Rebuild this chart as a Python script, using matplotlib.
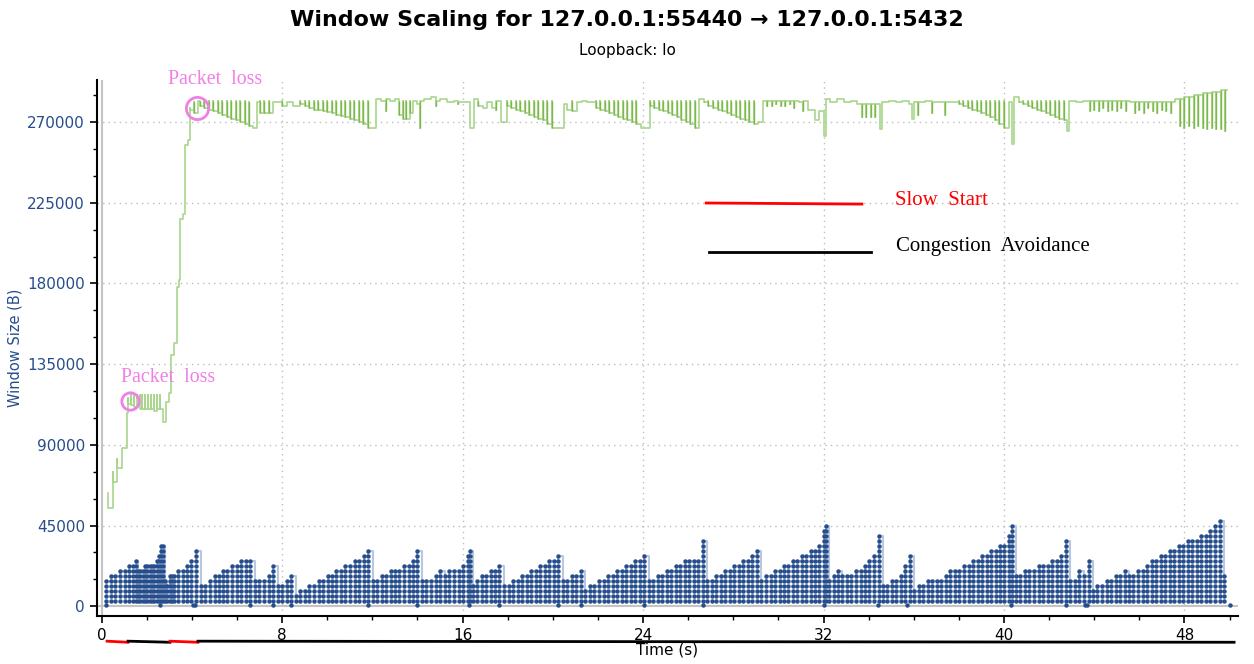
import matplotlib
matplotlib.use("Agg")
import matplotlib.pyplot as plt
import numpy as np

# bytes in flight: column times (s) and number of stacked segments per column
SEG = 2800
blue_t = [0.21, 0.40, 0.60, 0.81, 1.02, 1.21, 1.40, 1.51,
          1.61, 1.71, 1.82, 1.92, 2.02, 2.13, 2.23, 2.33, 2.44, 2.54, 2.64, 2.72,
          2.79, 2.91, 3.01, 3.12, 3.20, 3.38, 3.60, 3.80, 3.97, 4.19,
          4.42, 4.59, 4.80, 5.01, 5.18, 5.38, 5.57, 5.78, 5.98, 6.19, 6.38, 6.59,
          6.78, 6.99, 7.18, 7.40, 7.58,
          7.81, 8.01, 8.21, 8.39,
          8.60, 8.79, 9.00, 9.20, 9.41, 9.62, 9.82, 10.02, 10.19, 10.40, 10.61, 10.80, 11.01, 11.21, 11.40, 11.61, 11.80,
          12.01, 12.20, 12.41, 12.60, 12.82, 13.02, 13.19, 13.40, 13.61, 13.81, 13.99,
          14.21, 14.40, 14.61, 14.80, 14.99, 15.20, 15.41, 15.62, 15.82, 16.01, 16.22, 16.34,
          16.44, 16.64, 16.84, 17.03, 17.24, 17.43, 17.63,
          17.85, 18.04, 18.25, 18.44, 18.64, 18.85, 19.04, 19.25, 19.44, 19.65, 19.84, 20.05, 20.24,
          20.45, 20.64, 20.85, 21.04, 21.23,
          21.44, 21.65, 21.84, 22.04, 22.25, 22.44, 22.65, 22.86, 23.05, 23.26, 23.45, 23.65, 23.85, 24.04,
          24.25, 24.44, 24.64, 24.85, 25.04, 25.25, 25.44, 25.65, 25.84, 26.05, 26.24, 26.45, 26.64,
          26.85, 27.04, 27.24, 27.44, 27.64, 27.84, 28.04, 28.25, 28.44, 28.65, 28.84, 29.05,
          29.24, 29.45, 29.65, 29.85, 30.05, 30.24, 30.42, 30.63, 30.83, 31.03, 31.23, 31.43, 31.63, 31.82, 32.03, 32.12,
          32.22, 32.45, 32.64, 32.81, 33.04, 33.23, 33.44, 33.64, 33.83, 34.03, 34.23, 34.44,
          34.63, 34.82, 35.03, 35.22, 35.43, 35.62, 35.83,
          36.02, 36.21, 36.42, 36.61, 36.82, 37.03, 37.22, 37.41, 37.62, 37.82, 38.02, 38.22, 38.43, 38.62, 38.83,
          39.02, 39.23, 39.43, 39.63, 39.83, 40.02, 40.23, 40.34,
          40.53, 40.73, 40.93, 41.12, 41.33, 41.53, 41.72, 41.93, 42.14, 42.33, 42.52, 42.73,
          42.92, 43.13, 43.32, 43.53, 43.76,
          43.94, 44.13, 44.34, 44.55, 44.74, 44.95, 45.14, 45.35, 45.54, 45.73, 45.94, 46.14, 46.33, 46.54, 46.73,
          46.94, 47.15, 47.34, 47.55, 47.74, 47.94, 48.15, 48.34, 48.55, 48.74, 48.95, 49.14, 49.35, 49.57, 49.76]
blue_n = [5, 6, 6, 7, 7, 8, 8, 9,
          7, 7, 7, 8, 8, 8, 8, 8, 9, 10, 12, 12,
          5, 4, 6, 6, 6, 7, 7, 8, 9, 11,
          4, 4, 5, 6, 6, 7, 7, 8, 8, 9, 9, 9,
          5, 5, 5, 6, 8,
          4, 4, 5, 6,
          2, 3, 3, 4, 4, 5, 5, 6, 6, 7, 7, 8, 8, 9, 9, 10, 11,
          5, 5, 6, 6, 7, 7, 7, 8, 8, 9, 11,
          5, 5, 5, 6, 7, 6, 7, 7, 7, 8, 10, 11,
          4, 5, 6, 6, 7, 7, 8,
          4, 4, 5, 5, 6, 6, 7, 7, 8, 8, 9, 9, 10,
          5, 5, 6, 6, 7,
          3, 4, 4, 5, 5, 6, 6, 7, 7, 8, 8, 9, 9, 10,
          5, 5, 6, 6, 7, 7, 8, 8, 9, 9, 9, 9, 13,
          5, 5, 6, 6, 7, 7, 8, 8, 9, 9, 10, 11,
          5, 6, 6, 7, 7, 8, 8, 9, 9, 10, 10, 11, 11, 12, 15, 16,
          5, 6, 7, 6, 6, 6, 7, 7, 8, 9, 10, 14,
          4, 4, 5, 5, 6, 8, 10,
          3, 4, 4, 5, 5, 5, 5, 6, 7, 7, 7, 8, 8, 9, 9,
          10, 10, 11, 11, 12, 12, 14, 16,
          6, 6, 7, 7, 7, 8, 8, 8, 9, 9, 10, 13,
          5, 5, 7, 6, 9,
          3, 4, 4, 5, 5, 6, 6, 7, 6, 6, 7, 7, 8, 9, 9,
          10, 10, 11, 11, 12, 12, 13, 13, 13, 14, 14, 15, 16, 17, 6]
# lone points near zero right after each drop
zero_t = [0.21, 2.60, 4.05, 4.12, 6.59, 7.58, 8.39, 11.80, 13.99, 16.27, 17.63, 20.24,
          21.23, 24.04, 26.64, 32.00, 34.40, 35.70, 40.30, 42.73, 43.60, 43.70, 50.01]

# receive window (kB): at each time the line jumps to "via" then settles at "w"
green_t = [0.29, 0.49, 0.69, 0.91, 1.11, 1.15, 1.30, 1.42, 1.55, 1.68, 1.80, 1.92, 2.05, 2.18, 2.30,
           2.45, 2.60, 2.72, 2.86, 2.97, 3.07, 3.20, 3.34, 3.43, 3.48, 3.59, 3.69, 3.84, 3.91, 4.10, 4.28,
           4.36, 4.55, 4.75, 4.95, 5.15, 5.35, 5.55, 5.75, 5.95, 6.15, 6.35, 6.55, 6.70, 6.87,
           7.00, 7.20, 7.40, 7.60, 8.00, 8.20, 8.50, 8.80,
           9.00, 9.20, 9.40, 9.60, 9.80, 10.00, 10.20, 10.40, 10.60, 10.80, 11.00, 11.20, 11.40, 11.60, 11.80,
           12.15, 12.40, 12.60, 12.80, 13.00, 13.20, 13.35, 13.50, 13.65, 13.80, 14.00, 14.10, 14.30,
           14.60, 14.80, 15.00, 15.30, 15.60, 15.80, 16.32, 16.50, 16.70, 16.90, 17.10, 17.30, 17.50, 17.72,
           17.95, 18.15, 18.35, 18.55, 18.75, 18.95, 19.15, 19.35, 19.55, 19.75, 19.95,
           20.50, 20.65, 20.85, 21.05, 21.30, 21.50,
           21.90, 22.10, 22.30, 22.50, 22.70, 22.90, 23.10, 23.30, 23.50, 23.70, 23.90,
           24.30, 24.50, 24.70, 24.90, 25.10, 25.30, 25.50, 25.70, 25.90, 26.10, 26.30, 26.50,
           26.70, 26.90, 27.10, 27.30, 27.50, 27.70, 27.90, 28.10, 28.30, 28.50, 28.70, 28.90, 29.10,
           29.30, 29.50, 29.70, 29.90, 30.10, 30.30, 30.50, 30.70, 30.90, 31.10, 31.30, 31.60, 31.80,
           32.00, 32.10, 32.30, 32.60, 32.90, 33.20, 33.50, 33.70, 33.90, 34.10, 34.30, 34.50, 34.60,
           34.90, 35.20, 35.50, 35.80, 35.90, 36.00, 36.20, 36.50, 36.80, 37.10, 37.40, 37.70,
           38.00, 38.20, 38.40, 38.60, 38.80, 39.00, 39.20, 39.40, 39.60, 39.80, 40.00, 40.20, 40.35,
           40.45, 40.65, 40.85, 41.05, 41.25, 41.45, 41.65, 41.85, 42.05, 42.25, 42.45, 42.65, 42.80,
           42.90, 43.20, 43.50, 43.80, 44.00, 44.20, 44.40, 44.60, 44.80, 45.00, 45.20, 45.40,
           45.60, 45.80, 46.00, 46.20, 46.40, 46.60, 46.80, 47.00, 47.20, 47.40,
           47.60, 47.80, 48.00, 48.20, 48.40, 48.60, 48.80, 49.00, 49.20, 49.40, 49.60, 49.80]
green_via = [63, 75, 82, 88, 108, 116, 118, 118, 118, 118, 118, 118, 118, 118, 118,
             118, 118, 103, 114, 119, 140, 147, 178, 182, 216, 219, 257, 260, 278, 281, 282,
             282, 282, 282, 282, 282, 282, 282, 282, 282, 282, 282, 281, 267, 281,
             282, 282, 282, 281, 282, 281, 279, 282,
             282, 282, 282, 282, 282, 282, 282, 282, 282, 282, 282, 282, 282, 282, 282,
             283, 282, 276, 282, 283, 282, 282, 282, 282, 282, 280, 267, 283,
             284, 279, 283, 281, 282, 280, 267, 283, 282, 278, 281, 278, 277, 270,
             282, 282, 282, 282, 282, 282, 282, 282, 282, 282, 282,
             280, 277, 282, 281, 282, 281,
             282, 282, 282, 282, 282, 282, 282, 282, 282, 282, 267,
             282, 282, 282, 282, 282, 282, 282, 282, 282, 282, 282, 283,
             282, 282, 282, 282, 282, 282, 282, 282, 282, 282, 282, 282, 270,
             282, 279, 279, 280, 279, 279, 280, 278, 281, 276, 277, 271, 276,
             262, 283, 281, 283, 281, 282, 280, 273, 273, 273, 273, 266, 281,
             282, 281, 282, 280, 272, 281, 274, 282, 275, 281, 274, 281,
             282, 282, 282, 282, 282, 282, 282, 282, 282, 282, 282, 281, 258,
             284, 282, 282, 282, 282, 282, 282, 282, 282, 282, 282, 282, 265,
             282, 281, 282, 276, 277, 276, 278, 276, 277, 276, 278, 276,
             281, 275, 277, 275, 278, 276, 275, 277, 276, 275,
             283, 268, 267, 268, 267, 268, 267, 266, 267, 266, 266, 265]
green_w = [55, 69, 77, 88, 108, 113, 112, 111, 116, 110, 110, 110, 110, 110, 109,
           110, 110, 103, 114, 119, 140, 147, 178, 182, 216, 219, 257, 260, 277, 275, 282,
           279, 278, 277, 276, 275, 274, 273, 272, 271, 270, 269, 268, 267, 281,
           275, 275, 275, 281, 279, 281, 279, 280,
           279, 278, 277, 276.5, 276, 275.5, 275, 274, 273.5, 273, 272, 271, 270, 269, 267,
           283, 282, 283, 282, 283, 274, 272, 272, 275, 282, 280, 282, 283,
           284, 282, 283, 281, 282, 281, 267, 283, 279, 278, 281, 278, 282, 270,
           279, 278, 277, 276, 275, 274, 273, 272, 271, 269, 267,
           280, 277, 276, 281, 282, 281,
           278, 277, 276, 275, 274, 273, 272, 271, 270, 269, 267,
           279, 278, 277, 276, 275, 274, 273, 271, 270, 269, 267, 283,
           281, 279, 278, 277, 276, 275, 274, 273, 272, 271, 270, 269, 270,
           282, 282, 282, 282, 282, 282, 282, 282, 281, 282, 277, 271, 276,
           262, 283, 281, 283, 281, 282, 280, 280, 280, 280, 280, 266, 281,
           282, 281, 282, 280, 272, 281, 281, 282, 281, 281, 281, 281,
           280, 279, 278, 277, 276, 275, 274, 273, 271, 269, 267, 281, 258,
           284, 281, 280, 279, 278, 277, 276, 275, 274, 273, 272, 271, 265,
           282, 281, 282, 282, 282, 282, 282, 282, 282, 282, 282, 282,
           281, 281, 281, 281, 281, 281, 281, 281, 281, 281,
           283, 283, 284, 284, 285, 285, 286, 286, 287, 287, 288, 288]
green_end = 49.9

# slow start / congestion avoidance phases drawn under the time axis
phase_t = [0.24, 1.17, 3.03, 4.27, 50.2]
phase_kind = ["ss", "ca", "ss", "ca"]

BLUE = "#264d8c"
fig = plt.figure(figsize=(12.54, 6.64), dpi=100)
ax = fig.add_axes([0.0771, 0.0723, 0.9101, 0.8072])

# receive window line
xs, ys = [], []
prev = None
for t, v, w in zip(green_t, green_via, green_w):
    if prev is not None:
        xs.append(t)
        ys.append(prev)
    xs += [t, t]
    ys += [v * 1000, w * 1000]
    prev = w * 1000
xs.append(green_end)
ys.append(prev)
ax.plot(xs, ys, color="#a9d68c", lw=1.2, zorder=3)
spk = [(t, v, w) for t, v, w in zip(green_t, green_via, green_w) if v != w and t > 4]
ax.vlines([s[0] for s in spk], [min(s[1], s[2]) * 1000 for s in spk],
          [max(s[1], s[2]) * 1000 for s in spk], color="#7db84c", lw=1.0, zorder=3)

# bytes in flight
tops = np.array(blue_n) * SEG
ax.step(blue_t, tops, where="post", color="#b9c8de", lw=1.5, zorder=2)
dx, dy = [], []
for t, n in zip(blue_t, blue_n):
    for k in range(1, n + 1):
        dx.append(t)
        dy.append(k * SEG)
ax.plot(dx, dy, "o", color=BLUE, ms=3.2, mew=0, zorder=4)
ax.plot(zero_t, [600] * len(zero_t), "o", color=BLUE, ms=3.2, mew=0, zorder=4)

ax.set_xlim(-0.22, 50.37)
ax.set_ylim(-5466, 293500)
ax.axhline(0, color="#c4c4c4", lw=1.5, zorder=1)
ax.axvline(0, color="#c4c4c4", lw=1.5, zorder=1)

ax.set_xticks(np.arange(0, 49, 8))
ax.set_xticks(np.arange(0, 51, 2), minor=True)
ax.set_yticks(np.arange(0, 270001, 45000))
ax.set_yticks(np.arange(0, 290001, 15000), minor=True)
ax.grid(True, which="major", color="#bdbdbd", ls=(0, (1, 3)), lw=1)
for g in [ax.get_xgridlines()[0], ax.get_ygridlines()[0]]:
    g.set_visible(False)
ax.tick_params(which="major", length=5, width=1.2, labelsize=11)
ax.tick_params(which="minor", length=3, width=1)
ax.tick_params(axis="y", labelcolor=BLUE)
for s in ["top", "right"]:
    ax.spines[s].set_visible(False)
for s in ["left", "bottom"]:
    ax.spines[s].set_linewidth(1.5)

ax.set_xlabel("Time (s)", fontsize=11, labelpad=0)
ax.set_ylabel("Window Size (B)", fontsize=10.5, color=BLUE, labelpad=3)

fig.text(0.5, 1 - 20 / 664, "Window Scaling for 127.0.0.1:55440 \u2192 127.0.0.1:5432",
         ha="center", va="center", fontsize=15.9, fontweight="bold")
fig.text(0.5, 1 - 51 / 664, "Loopback: lo", ha="center", va="center", fontsize=11)

# packet loss marks
PINK = "#f07fe6"
ax.plot([4.22], [277900], "o", mfc="none", mec=PINK, ms=16, mew=2, zorder=5, clip_on=False)
ax.plot([1.25], [114400], "o", mfc="none", mec=PINK, ms=12.5, mew=2, zorder=5)
ax.text(5.03, 294000, "Packet  loss", color=PINK, fontsize=14.3, family="Liberation Serif",
        ha="center", va="center", clip_on=False)
ax.text(2.94, 127800, "Packet  loss", color=PINK, fontsize=14.3, family="Liberation Serif",
        ha="center", va="center")

# in-plot key
ax.plot([26.8, 33.7], [224900, 224300], color="red", lw=2)
ax.plot([26.94, 34.1], [197400, 197400], color="black", lw=2)
ax.text(35.17, 226500, "Slow  Start", color="red", fontsize=15, family="Liberation Serif", va="center")
ax.text(35.2, 200400, "Congestion  Avoidance", color="black", fontsize=15,
        family="Liberation Serif", va="center")

# phase bar below the axis
tr = ax.get_xaxis_transform()
for i, kind in enumerate(phase_kind):
    ax.plot([phase_t[i], phase_t[i + 1]], [-0.047, -0.049], transform=tr,
            color="red" if kind == "ss" else "black", lw=2, clip_on=False, zorder=6)

fig.savefig("out.png", dpi=100)
